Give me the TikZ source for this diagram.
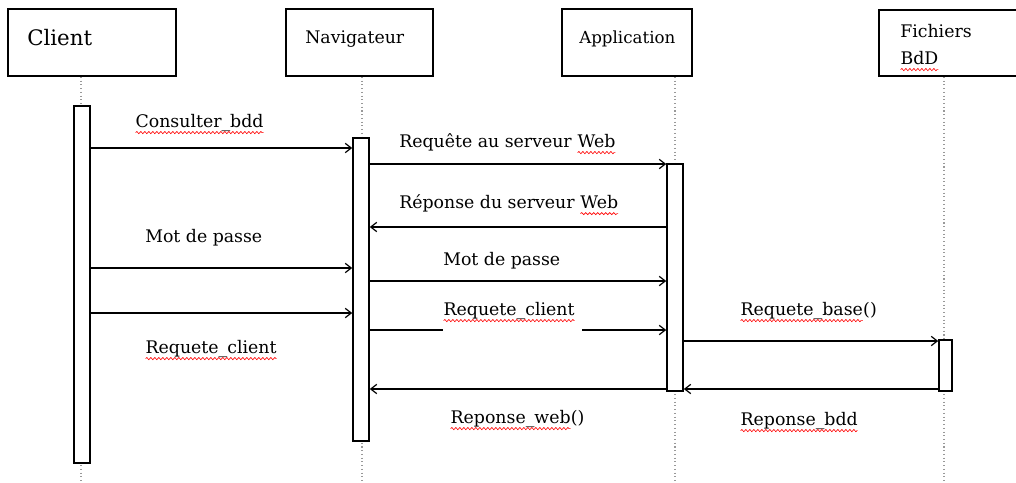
\documentclass[tikz,border=0pt]{standalone}
\usepackage{fontspec}
\setmainfont{DejaVu Serif}
\usetikzlibrary{arrows.meta,fit,decorations.pathmorphing}
\newcommand{\sq}[1]{\tikz[baseline=(sqw.base)]{\node[inner sep=0pt,outer sep=0pt,draw=none,fill=none,anchor=base west] (sqw) at (0,0) {#1};\draw[red,line width=0.5pt,decorate,decoration={snake,amplitude=0.8pt,segment length=3pt}] ([yshift=-4.2pt]sqw.base west) -- ([yshift=-4.2pt]sqw.base east);}}
\begin{document}
\begin{tikzpicture}[x=0.75pt,y=-0.75pt,
  box/.style={draw,line width=1.3pt,inner sep=0pt},
  bar/.style={draw,fill=white,line width=1.2pt,inner sep=0pt},
  life/.style={draw=gray!80,dotted,line width=0.8pt},
  msg/.style={line width=1.1pt,-{Straight Barb[length=4.5pt,width=7pt,line width=0.9pt]}},
  seg/.style={line width=1.1pt},
  lbl/.style={anchor=base west,inner sep=0pt,font=\fontsize{13}{15}\selectfont},
  ttl/.style={anchor=base west,inner sep=0pt,font=\fontsize{13}{15}\selectfont}]
\useasboundingbox (0,0) rectangle (1016,482);
% header boxes
\node[box,fit={(8,9)(176,76)}] (cbox) {};
\node[box,fit={(286,9)(433,76)}] (nbox) {};
\node[box,fit={(562,9)(692,76)}] (abox) {};
\node[box,fit={(879,10)(1030,76)}] (fbox) {};
\node[ttl,font=\fontsize{16}{18}\selectfont] (ctxt) at (27,45) {Client};
\node[ttl] (ntxt) at (305,43) {Navigateur};
\node[ttl,font=\fontsize{12.5}{14}\selectfont] (atxt) at (579,43) {Application};
\node[ttl] (ftxt1) at (900,37) {Fichiers};
\node[ttl] (ftxt2) at (900,64) {\sq{BdD}};
% activation bars (positions)
\coordinate (cb1) at (74,106); \coordinate (cb2) at (90,463);
\coordinate (nb1) at (353,138); \coordinate (nb2) at (369,441);
\coordinate (ab1) at (667,164); \coordinate (ab2) at (683,391);
\coordinate (fb1) at (939,340); \coordinate (fb2) at (952,391);
% lifelines
\draw[life] (cbox.south -| 81,0) -- (81,482);
\draw[life] (nbox.south -| 362,0) -- (362,482);
\draw[life] (abox.south -| 675,0) -- (675,482);
\draw[life] (fbox.south -| 944,0) -- (944,482);
% bars
\node[bar,fit=(cb1)(cb2)] (cbar) {};
\node[bar,fit=(nb1)(nb2)] (nbar) {};
\node[bar,fit=(ab1)(ab2)] (abar) {};
\node[bar,fit=(fb1)(fb2)] (fbar) {};
% messages
\draw[msg] (cbar.east |- 0,148) -- (nbar.west |- 0,148);
\node[lbl] (l1) at (135,127) {\sq{Consulter\_bdd}};
\draw[msg] (nbar.east |- 0,164) -- (abar.west |- 0,164);
\node[lbl] (l2) at (399,147) {Requête au serveur \sq{Web}};
\draw[msg] (abar.west |- 0,227) -- (nbar.east |- 0,227);
\node[lbl] (l3) at (399,208) {Réponse du serveur \sq{Web}};
\draw[msg] (cbar.east |- 0,268) -- (nbar.west |- 0,268);
\node[lbl] (l4) at (145,242) {Mot de passe};
\draw[msg] (nbar.east |- 0,281) -- (abar.west |- 0,281);
\node[lbl] (l5) at (443,265) {Mot de passe};
\draw[msg] (cbar.east |- 0,313) -- (nbar.west |- 0,313);
\node[lbl] (l6) at (145,353) {\sq{Requete\_client}};
\coordinate (rc1) at (443,330);
\coordinate (rc2) at (582,330);
\draw[seg] (nbar.east |- rc1) -- (rc1);
\draw[msg] (rc2) -- (abar.west |- rc2);
\node[lbl] (l7) at (443,315) {\sq{Requete\_client}};
\draw[msg] (abar.east |- 0,341) -- (fbar.west |- 0,341);
\node[lbl] (l8) at (740,315) {\sq{Requete\_base}()};
\draw[msg] (fbar.west |- 0,389) -- (abar.east |- 0,389);
\node[lbl] (l9) at (740,425) {\sq{Reponse\_bdd}};
\draw[msg] (abar.west |- 0,389) -- (nbar.east |- 0,389);
\node[lbl] (l10) at (450,423) {\sq{Reponse\_web}()};
\end{tikzpicture}
\end{document}
